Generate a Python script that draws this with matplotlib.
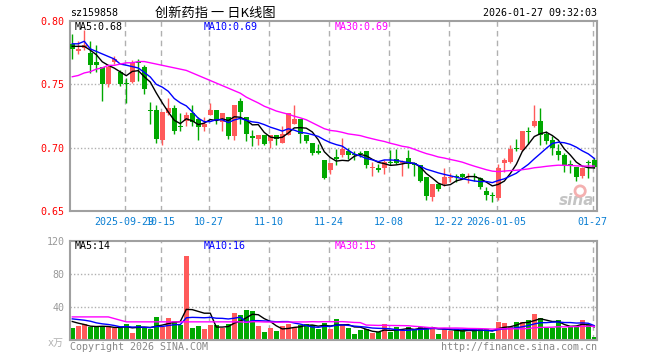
import numpy as np
import pandas as pd
import matplotlib
matplotlib.use('Agg')
import matplotlib.pyplot as plt

plt.rcParams['font.family'] = ['DejaVu Sans Mono', 'Noto Sans CJK SC']

# daily K data, 2025-09-16 .. 2026-01-27 (88 trading days)
opens = [0.782, 0.776, 0.779, 0.775, 0.768, 0.764, 0.750, 0.768, 0.760, 0.751,
         0.752, 0.768, 0.764, 0.730, 0.730, 0.706, 0.727, 0.731, 0.717, 0.721,
         0.727, 0.723, 0.716, 0.726, 0.730, 0.720, 0.724, 0.709, 0.737, 0.724,
         0.709, 0.707, 0.710, 0.705, 0.710, 0.704, 0.710, 0.719, 0.723, 0.710,
         0.704, 0.697, 0.690, 0.682, 0.693, 0.694, 0.697, 0.695, 0.696, 0.697,
         0.684, 0.684, 0.684, 0.689, 0.691, 0.688, 0.692, 0.688, 0.686, 0.677,
         0.661, 0.671, 0.671, 0.676, 0.678, 0.679, 0.677, 0.678, 0.676, 0.666,
         0.663, 0.660, 0.688, 0.689, 0.700, 0.698, 0.713, 0.717, 0.721, 0.711,
         0.706, 0.697, 0.694, 0.687, 0.685, 0.678, 0.689, 0.690]
closes = [0.778, 0.778, 0.781, 0.765, 0.765, 0.750, 0.764, 0.770, 0.750, 0.750,
          0.767, 0.767, 0.746, 0.729, 0.707, 0.728, 0.731, 0.713, 0.716, 0.726,
          0.720, 0.716, 0.719, 0.730, 0.722, 0.727, 0.709, 0.734, 0.728, 0.711,
          0.708, 0.710, 0.703, 0.710, 0.707, 0.711, 0.727, 0.723, 0.711, 0.705,
          0.696, 0.696, 0.676, 0.688, 0.691, 0.699, 0.694, 0.694, 0.695, 0.686,
          0.685, 0.682, 0.689, 0.688, 0.688, 0.689, 0.687, 0.686, 0.674, 0.662,
          0.671, 0.667, 0.677, 0.677, 0.677, 0.677, 0.678, 0.677, 0.669, 0.663,
          0.662, 0.684, 0.690, 0.699, 0.699, 0.713, 0.712, 0.721, 0.710, 0.705,
          0.700, 0.694, 0.686, 0.686, 0.677, 0.684, 0.688, 0.685]
highs = [0.790, 0.784, 0.793, 0.784, 0.781, 0.764, 0.765, 0.772, 0.761, 0.755,
         0.769, 0.770, 0.765, 0.736, 0.734, 0.728, 0.739, 0.734, 0.727, 0.728,
         0.734, 0.724, 0.724, 0.735, 0.730, 0.727, 0.724, 0.734, 0.739, 0.724,
         0.714, 0.710, 0.710, 0.710, 0.710, 0.717, 0.727, 0.734, 0.723, 0.710,
         0.704, 0.703, 0.690, 0.688, 0.699, 0.708, 0.700, 0.697, 0.697, 0.697,
         0.689, 0.687, 0.690, 0.698, 0.699, 0.690, 0.698, 0.689, 0.686, 0.677,
         0.671, 0.671, 0.684, 0.680, 0.679, 0.680, 0.680, 0.680, 0.677, 0.669,
         0.665, 0.687, 0.692, 0.702, 0.707, 0.713, 0.716, 0.734, 0.731, 0.713,
         0.709, 0.703, 0.696, 0.690, 0.685, 0.685, 0.690, 0.692]
lows = [0.770, 0.774, 0.777, 0.759, 0.760, 0.737, 0.748, 0.766, 0.749, 0.735,
        0.751, 0.753, 0.742, 0.719, 0.704, 0.702, 0.726, 0.711, 0.713, 0.717,
        0.717, 0.706, 0.713, 0.726, 0.719, 0.713, 0.707, 0.706, 0.719, 0.705,
        0.701, 0.702, 0.702, 0.700, 0.702, 0.704, 0.710, 0.719, 0.704, 0.704,
        0.694, 0.695, 0.675, 0.679, 0.686, 0.693, 0.691, 0.690, 0.693, 0.684,
        0.678, 0.681, 0.679, 0.686, 0.687, 0.678, 0.684, 0.678, 0.673, 0.659,
        0.658, 0.666, 0.670, 0.673, 0.673, 0.676, 0.672, 0.674, 0.667, 0.659,
        0.657, 0.659, 0.681, 0.688, 0.697, 0.697, 0.703, 0.716, 0.702, 0.703,
        0.694, 0.690, 0.681, 0.680, 0.674, 0.676, 0.676, 0.684]
# volume, 万手
volumes = [14, 16.8, 19.6, 15.6, 15.6, 15.6, 15.6, 14, 15.6, 19.6,
           8.8, 18.4, 15.6, 12.8, 28, 15.6, 27.2, 23.6, 17.6, 101.6,
           14, 16.4, 12.8, 17.6, 17.6, 14, 19.6, 33.2, 30.8, 36.8,
           35.6, 16.8, 9.2, 14, 10.4, 16.8, 19.6, 15.6, 17.6, 19.6,
           18.4, 12.8, 20.8, 12.8, 26, 19.6, 14, 6.8, 11.6, 12.8,
           8, 9.2, 18.8, 9.2, 15.2, 11.6, 15.2, 12.8, 16, 16,
           16, 6.8, 12.8, 10.8, 12.8, 11.6, 9.2, 12.8, 12.8, 12.8,
           8, 22.4, 21.2, 16, 22.4, 22.4, 24.8, 32, 27.2, 14,
           14, 24.8, 14, 16, 16, 24.8, 20, 3.2]

# MA values before enough days are in the window
ma5_head = [0.780, 0.780, 0.780, 0.777]
ma10_head = [0.782, 0.782, 0.784, 0.778, 0.776, 0.774, 0.772, 0.770, 0.766]
ma30_head = [0.756, 0.757, 0.759, 0.760, 0.762, 0.763, 0.765, 0.765, 0.766, 0.767,
             0.767, 0.768, 0.768, 0.767, 0.766, 0.765, 0.764, 0.763, 0.762, 0.761,
             0.759, 0.757, 0.755, 0.753, 0.751, 0.749, 0.747, 0.745, 0.743]
vol_ma5_head = [22.4, 20.4, 18.8, 16.8]
vol_ma10_head = [25.6, 24.8, 24.0, 22.8, 20.8, 19.6, 18.8, 17.6, 16.0]
vol_ma30_head = [28, 28, 28, 28, 28, 28, 28, 26, 24, 22,
                 22, 22, 22, 22, 22, 22, 22, 22, 22, 22,
                 22, 22, 22, 22, 22, 22, 22, 22, 22]

tick_pos = [9, 15, 23, 33, 43, 53, 63, 71, 87]
tick_labels = ['2025-09-29', '10-15', '10-27', '11-10', '11-24', '12-08',
               '12-22', '2026-01-05', '01-27']

RED = '#ff5a5a'
GREEN = '#00a800'
GRAY = '#a0a0a0'


def moving(values, n, head):
    m = pd.Series(values, dtype=float).rolling(n).mean().to_numpy()
    m[:len(head)] = head
    return m


o = np.array(opens)
c = np.array(closes)
x = np.arange(len(c))
up = c >= o
colors = np.where(up, RED, GREEN)

fig = plt.figure(figsize=(6.6, 3.6), dpi=100)
W, H = 660, 360
ax = fig.add_axes([70 / W, 1 - 211 / H, 527 / W, 190 / H])
axv = fig.add_axes([70 / W, 1 - 340 / H, 527 / W, 99 / H])

for a in (ax, axv):
    a.set_xlim(-0.38, 87.45)
    for s in a.spines.values():
        s.set_color(GRAY)
        s.set_linewidth(1.5)
    for t in tick_pos:
        a.axvline(t - 0.28, color='#b0b0b0', lw=1, ls=(0, (4, 3)), zorder=0)
    a.tick_params(length=0)

# price panel
ax.set_ylim(0.65, 0.80)
for yv in (0.70, 0.75):
    ax.axhline(yv, color='#b0b0b0', lw=1, ls=(0, (1, 1.5)), zorder=0)
ax.vlines(x, lows, highs, color=colors, lw=1, zorder=2)
body = np.maximum(np.abs(c - o), 0.0007)
ax.bar(x, body, bottom=np.minimum(o, c), width=0.8, color=colors, zorder=3)
ax.plot(x, moving(closes, 5, ma5_head), color='black', lw=1, zorder=4)
ax.plot(x, moving(closes, 10, ma10_head), color='#0000ff', lw=1, zorder=4)
ax.plot(x, moving(closes, 30, ma30_head), color='#ff00ff', lw=1, zorder=4)
ax.set_yticks([0.65, 0.70, 0.75, 0.80])
ax.set_yticklabels(['0.65', '0.70', '0.75', '0.80'], color='red', fontsize=7.2)
ax.set_xticks([t - 0.28 for t in tick_pos])
ax.set_xticklabels(tick_labels, color='#0a7fd3', fontsize=7.2)
ax.tick_params(axis='x', pad=4)
ax.tick_params(axis='y', pad=4)

# sina watermark
ax.text(0.995, 0.015, 'sina', transform=ax.transAxes, ha='right', va='bottom',
        fontsize=11, fontweight='bold', fontstyle='italic', color='#c4c4c4',
        family='DejaVu Sans', zorder=1)
ax.scatter([0.968], [0.105], s=55, transform=ax.transAxes, facecolors='none',
           edgecolors='#f4b0b0', linewidths=2, zorder=1)

# volume panel
axv.set_ylim(0, 120)
for yv in (40, 80):
    axv.axhline(yv, color='#b0b0b0', lw=1, ls=(0, (1, 1.5)), zorder=0)
axv.bar(x, volumes, width=0.8, color=colors, zorder=2)
axv.plot(x, moving(volumes, 5, vol_ma5_head), color='black', lw=1, zorder=3)
axv.plot(x, moving(volumes, 10, vol_ma10_head), color='#0000ff', lw=1, zorder=3)
axv.plot(x, moving(volumes, 30, vol_ma30_head), color='#ff00ff', lw=1, zorder=3)
axv.set_yticks([40, 80, 120])
axv.set_yticklabels(['40', '80', '120'], color='#999999', fontsize=7.2)
axv.set_xticks([])
axv.tick_params(axis='y', pad=4)


def ftext(px, py, s, **kw):
    kw.setdefault('fontsize', 7.2)
    fig.text(px / W, 1 - py / H, s, va='center', **kw)


ftext(70, 13, 'sz159858', color='black')
ftext(215, 13, '创新药指 一 日K线图', ha='center', fontsize=9.5, color='black',
      family=['Noto Sans CJK SC', 'DejaVu Sans'])
ftext(597, 13, '2026-01-27 09:32:03', ha='right', color='black')
ftext(75, 27, 'MA5:0.68', color='black')
ftext(204, 27, 'MA10:0.69', color='#0000ff')
ftext(335, 27, 'MA30:0.69', color='#ff00ff')
ftext(75, 246, 'MA5:14', color='black')
ftext(204, 246, 'MA10:16', color='#0000ff')
ftext(335, 246, 'MA30:15', color='#ff00ff')
ftext(64, 343, 'x万', ha='right', color='#b0b0b0',
      family=['DejaVu Sans Mono', 'Noto Sans CJK SC'])
ftext(70, 347, 'Copyright 2026 SINA.COM', color='#888888')
ftext(597, 347, 'http://finance.sina.com.cn', ha='right', color='#888888')

fig.savefig('out.png', dpi=100)
